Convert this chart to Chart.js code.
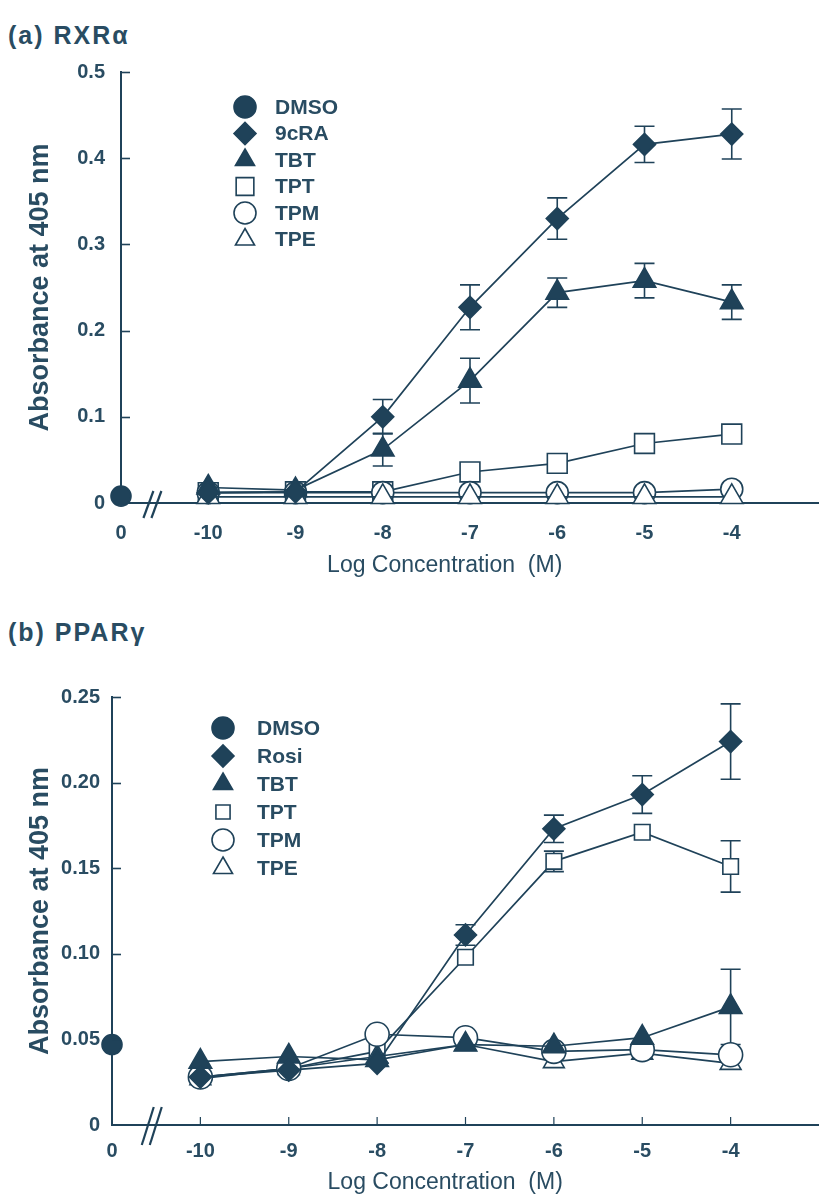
<!DOCTYPE html>
<html><head><meta charset="utf-8">
<script src="https://cdn.jsdelivr.net/npm/chart.js@4.4.0/dist/chart.umd.min.js"></script>
<style>
html,body{margin:0;padding:0;background:#fff;}
body{width:819px;height:1204px;position:relative;overflow:hidden;}
.ttl{position:absolute;left:8px;font:bold 25px "Liberation Sans",Arial,sans-serif;color:#294c62;letter-spacing:2px;line-height:28px;}
.wrap{position:absolute;left:0;width:819px;}
</style></head><body>
<div class="ttl" style="top:21px">(a) RXRα</div>
<div class="ttl" style="top:618px">(b) PPARγ</div>
<div class="wrap" style="top:0;height:600px"><canvas id="c1" width="819" height="600"></canvas></div>
<div class="wrap" style="top:600px;height:604px"><canvas id="c2" width="819" height="604"></canvas></div>
<script>
// ---------- data ----------
const xCats = [-10, -9, -8, -7, -6, -5, -4];
const dmsoX = -11;
const xTickValues = [-11, -10, -9, -8, -7, -6, -5, -4];
const xTickLabels = ['0', '-10', '-9', '-8', '-7', '-6', '-5', '-4'];
const xTitle = 'Log Concentration  (M)';
const yTitle = 'Absorbance at 405 nm';

// panel (a) RXRalpha
const aSeriesNames = ['DMSO', '9cRA', 'TBT', 'TPT', 'TPM', 'TPE'];
const aDMSO = 0.008;
const a9cRA = [0.012, 0.013, 0.100, 0.227, 0.330, 0.416, 0.428];
const a9cRAErr = [0, 0, 0.020, 0.026, 0.024, 0.021, 0.029];
const aTBT = [0.018, 0.015, 0.062, 0.142, 0.244, 0.258, 0.233];
const aTBTErr = [0, 0, 0.019, 0.026, 0.017, 0.020, 0.020];
const aTPT = [0.012, 0.013, 0.013, 0.036, 0.046, 0.069, 0.080];
const aTPM = [0.012, 0.012, 0.012, 0.012, 0.012, 0.012, 0.016];
const aTPE = [0.007, 0.007, 0.007, 0.007, 0.007, 0.007, 0.007];
const aYTicks = [0, 0.1, 0.2, 0.3, 0.4, 0.5];
const aYLabels = ['0', '0.1', '0.2', '0.3', '0.4', '0.5'];

// panel (b) PPARgamma
const bSeriesNames = ['DMSO', 'Rosi', 'TBT', 'TPT', 'TPM', 'TPE'];
const bDMSO = 0.047;
const bRosi = [0.028, 0.032, 0.036, 0.111, 0.173, 0.193, 0.224];
const bRosiErr = [0, 0, 0, 0.006, 0.008, 0.011, 0.022];
const bTBT = [0.037, 0.040, 0.038, 0.047, 0.046, 0.051, 0.069];
const bTBTErr = [0, 0, 0, 0, 0, 0, 0.022];
const bTPT = [0.028, 0.033, 0.043, 0.098, 0.154, 0.171, 0.151];
const bTPTErr = [0, 0, 0, 0, 0.006, 0, 0.015];
const bTPM = [0.028, 0.033, 0.053, 0.051, 0.043, 0.044, 0.041];
const bTPE = [0.027, 0.033, 0.040, 0.047, 0.037, 0.042, 0.036];
const bYTicks = [0, 0.05, 0.10, 0.15, 0.20, 0.25];
const bYLabels = ['0', '0.05', '0.10', '0.15', '0.20', '0.25'];

// ---------- style ----------
const INK = '#1f4259';
const TXT = '#294c62';
const SANS = '"Liberation Sans", Arial, sans-serif';

function pts(arr) { return xCats.map((x, i) => ({x: x, y: arr[i]})); }

const errorBars = {
  id: 'errorBars',
  beforeDatasetsDraw(chart, args, o) {
    const {ctx, scales: {x, y}} = chart;
    ctx.save();
    ctx.strokeStyle = INK; ctx.lineWidth = 1.6;
    chart.data.datasets.forEach(ds => {
      if (!ds.errors) return;
      ds.data.forEach((p, i) => {
        const e = ds.errors[i]; if (!e) return;
        const px = x.getPixelForValue(p.x);
        const y1 = y.getPixelForValue(p.y + e), y2 = y.getPixelForValue(p.y - e);
        ctx.beginPath();
        ctx.moveTo(px, y1); ctx.lineTo(px, y2);
        ctx.moveTo(px - o.cap, y1); ctx.lineTo(px + o.cap, y1);
        ctx.moveTo(px - o.cap, y2); ctx.lineTo(px + o.cap, y2);
        ctx.stroke();
      });
    });
    ctx.restore();
  }
};

const deco = {
  id: 'deco',
  afterDraw(chart, args, o) {
    const {ctx, scales: {x, y}, chartArea: ca} = chart;
    ctx.save();
    ctx.strokeStyle = INK; ctx.lineWidth = 1.6;
    // inward y ticks
    y.ticks.forEach(t => {
      if (t.value === 0) return;
      const py = Math.round(y.getPixelForValue(t.value)) + 0.5;
      ctx.beginPath(); ctx.moveTo(ca.left, py); ctx.lineTo(ca.left + o.yTickLen, py); ctx.stroke();
    });
    // upward x ticks
    if (o.xTickLen) {
      ctx.lineWidth = 1.2;
      x.ticks.forEach(t => {
        if (t.value === dmsoX) return;
        const px = x.getPixelForValue(t.value);
        ctx.beginPath(); ctx.moveTo(px, ca.bottom); ctx.lineTo(px, ca.bottom - o.xTickLen); ctx.stroke();
      });
    }
    // axis break marks
    ctx.lineWidth = 2.2;
    const bx = x.getPixelForValue(o.breakAt), by = ca.bottom;
    [-4, 4].forEach(d => {
      ctx.beginPath();
      ctx.moveTo(bx + d - o.bw, by + o.bh2);
      ctx.lineTo(bx + d + o.bw, by - o.bh1);
      ctx.stroke();
    });
    // x axis title
    ctx.fillStyle = TXT;
    ctx.font = '23px ' + SANS;
    ctx.textAlign = 'center';
    ctx.textBaseline = 'middle';
    ctx.fillText(xTitle, x.getPixelForValue(o.titleAt), o.titleY);
    ctx.restore();
  }
};

const customLegend = {
  id: 'customLegend',
  afterDraw(chart, args, o) {
    const ctx = chart.ctx;
    ctx.save();
    chart.data.datasets.forEach((ds, i) => {
      const y = o.y0 + i * o.dy;
      ctx.fillStyle = ds.pointBackgroundColor;
      ctx.strokeStyle = INK;
      ctx.lineWidth = 1.6;
      Chart.helpers.drawPoint(ctx, {pointStyle: ds.pointStyle, radius: o.radii[i], rotation: 0, borderWidth: 1.6}, o.mx, y);
      ctx.fillStyle = TXT;
      ctx.font = 'bold ' + o.size + 'px ' + SANS;
      ctx.textBaseline = 'middle';
      ctx.textAlign = 'left';
      ctx.fillText(ds.label, o.tx, y + 1);
    });
    ctx.restore();
  }
};

function series(label, data, style, filled, radius, errors, order, isDmso) {
  return {
    label: label,
    data: data,
    errors: errors,
    order: order,
    showLine: !isDmso,
    borderColor: INK,
    borderWidth: 1.7,
    pointStyle: style,
    pointRadius: radius,
    pointHoverRadius: radius,
    pointBorderWidth: 1.6,
    pointBorderColor: INK,
    pointBackgroundColor: filled ? INK : '#ffffff',
    backgroundColor: filled ? INK : '#ffffff',
    fill: false,
    tension: 0,
    clip: false
  };
}

function panel(id, p) {
  return new Chart(document.getElementById(id), {
    type: 'line',
    data: {datasets: p.datasets},
    options: {
      responsive: false,
      animation: false,
      events: [],
      layout: {autoPadding: false, padding: {top: p.top, left: 0, right: 0, bottom: 0}},
      plugins: {
        legend: {display: false},
        tooltip: {enabled: false},
        errorBars: {cap: 10},
        deco: p.deco,
        customLegend: p.legend
      },
      scales: {
        x: {
          type: 'linear', min: -11, max: -3,
          afterFit(s) { s.height = p.xH; },
          afterBuildTicks(s) { s.ticks = xTickValues.map(v => ({value: v})); },
          ticks: {callback: (v, i) => xTickLabels[i], font: {family: SANS, size: 20, weight: 'bold'}, color: TXT, padding: p.xPad, autoSkip: false, maxRotation: 0},
          grid: {display: false, drawTicks: false},
          border: {display: true, color: INK, width: 2},
          title: {display: false}
        },
        y: {
          min: 0, max: p.yMax,
          afterFit(s) { s.width = p.yW; },
          afterBuildTicks(s) { s.ticks = p.yTicks.map(v => ({value: v})); },
          ticks: {callback: (v, i) => p.yLabels[i], font: {family: SANS, size: 20, weight: 'bold'}, color: TXT, padding: p.yPad},
          grid: {display: false, drawTicks: false},
          border: {display: true, color: INK, width: 2},
          title: {display: true, text: yTitle, font: {family: SANS, size: 27, weight: 'bold'}, color: TXT, padding: {top: 24, bottom: 0}}
        }
      }
    },
    plugins: [errorBars, deco, customLegend]
  });
}

panel('c1', {
  top: 72, yW: 121, xH: 97, xPad: 18, yPad: 16, yMax: 0.5,
  yTicks: aYTicks, yLabels: aYLabels,
  deco: {yTickLen: 9, xTickLen: 0, breakAt: -10.64, bw: 5, bh1: 12, bh2: 15, titleAt: -7.29, titleY: 566},
  legend: {mx: 245, tx: 275, y0: 107, dy: 26.5, size: 21, radii: [11, 11, 11, 12.5, 11, 11]},
  datasets: [
    series(aSeriesNames[0], [{x: dmsoX, y: aDMSO}], 'circle', true, 10, null, 0, true),
    series(aSeriesNames[1], pts(a9cRA), 'rectRot', true, 11, a9cRAErr, 1),
    series(aSeriesNames[2], pts(aTBT), 'triangle', true, 13, aTBTErr, 2),
    series(aSeriesNames[3], pts(aTPT), 'rect', false, 14, null, 5),
    series(aSeriesNames[4], pts(aTPM), 'circle', false, 11, null, 4),
    series(aSeriesNames[5], pts(aTPE), 'triangle', false, 13, null, 3)
  ]
});

panel('c2', {
  top: 97, yW: 112, xH: 79, xPad: 14, yPad: 12, yMax: 0.25,
  yTicks: bYTicks, yLabels: bYLabels,
  deco: {yTickLen: 9, xTickLen: 8, breakAt: -10.55, bw: 6, bh1: 18, bh2: 20, titleAt: -7.23, titleY: 583},
  legend: {mx: 223, tx: 257, y0: 128, dy: 28, size: 21, radii: [11, 11, 11, 10, 11, 11]},
  datasets: [
    series(bSeriesNames[0], [{x: dmsoX, y: bDMSO}], 'circle', true, 10, null, 0, true),
    series(bSeriesNames[1], pts(bRosi), 'rectRot', true, 11, bRosiErr, 1),
    series(bSeriesNames[2], pts(bTBT), 'triangle', true, 13, bTBTErr, 2),
    series(bSeriesNames[3], pts(bTPT), 'rect', false, 11, bTPTErr, 5),
    series(bSeriesNames[4], pts(bTPM), 'circle', false, 12, null, 3),
    series(bSeriesNames[5], pts(bTPE), 'triangle', false, 12, null, 4)
  ]
});
</script>
</body></html>
